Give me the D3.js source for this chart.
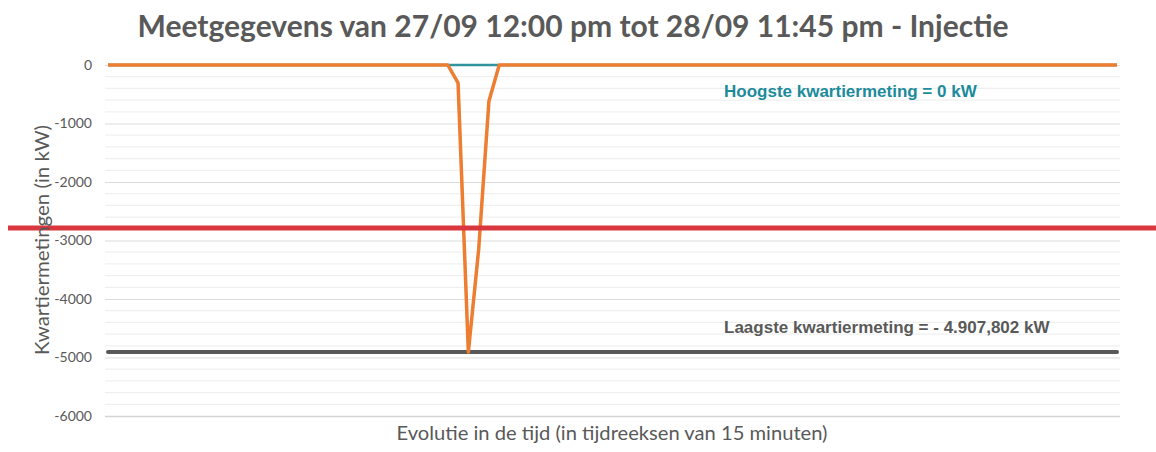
<!DOCTYPE html>
<html>
<head>
<meta charset="utf-8">
<script src="https://cdn.jsdelivr.net/npm/d3@7"></script>
<style>
  body { margin: 0; background: #fff; }
  svg { display: block; }
</style>
</head>
<body>
<div id="chart"></div>
<script>
'use strict';

// measurements per quarter hour (kW); only the short dip around index 35 is non-zero
const injectie = [
  0, 0, 0, 0, 0, 0, 0, 0, 0, 0, 0, 0, 0, 0, 0, 0, 0, 0, 0, 0,
  0, 0, 0, 0, 0, 0, 0, 0, 0, 0, 0, 0, 0, 0, -307, -4907.802, -3157, -614, 0, 0,
  0, 0, 0, 0, 0, 0, 0, 0, 0, 0, 0, 0, 0, 0, 0, 0, 0, 0, 0, 0,
  0, 0, 0, 0, 0, 0, 0, 0, 0, 0, 0, 0, 0, 0, 0, 0, 0, 0, 0, 0,
  0, 0, 0, 0, 0, 0, 0, 0, 0, 0, 0, 0, 0, 0, 0, 0, 0, 0, 0
];
const hoogste = 0;
const laagste = -4907.802;
const markering = -2785;
const yTicks = [0, -1000, -2000, -3000, -4000, -5000, -6000];

const title = 'Meetgegevens van 27/09 12:00 pm tot 28/09 11:45 pm - Injectie';
const yTitle = 'Kwartiermetingen (in kW)';
const xTitle = 'Evolutie in de tijd (in tijdreeksen van 15 minuten)';
const hoogsteLabel = 'Hoogste kwartiermeting = 0 kW';
const laagsteLabel = 'Laagste kwartiermeting = - 4.907,802 kW';

const W = 1156, H = 452;
const plot = { left: 105, right: 1120, top: 65, bottom: 416 };

const svg = d3.select('#chart').append('svg')
    .attr('width', W)
    .attr('height', H);

const idx = injectie.map((d, i) => i);

const x = d3.scalePoint()
    .domain(idx)
    .range([108, 1117]);

const y = d3.scaleLinear()
    .domain([0, -6000])
    .range([plot.top, plot.bottom]);

// minor gridlines every 200
svg.append('g')
  .selectAll('line')
  .data(d3.range(0, -6001, -200).filter(v => v % 1000 !== 0))
  .enter().append('line')
    .attr('x1', plot.left).attr('x2', plot.right)
    .attr('y1', d => y(d)).attr('y2', d => y(d))
    .attr('stroke', '#f0f0f0')
    .attr('stroke-width', 1.2);

// major gridlines + tick labels via axisLeft (plain hyphen, as in the original)
const yAxis = d3.axisLeft(y)
    .tickValues(yTicks)
    .tickSize(-(plot.right - plot.left))
    .tickPadding(13)
    .tickFormat(d => String(d));

const gy = svg.append('g')
    .attr('transform', `translate(${plot.left},0)`)
    .call(yAxis);

gy.select('.domain').remove();
gy.selectAll('.tick line')
    .attr('stroke', d => d === -6000 ? '#d4d4d4' : '#dcdcdc')
    .attr('stroke-width', d => d === -6000 ? 1.6 : 1.2);
gy.selectAll('.tick text')
    .attr('fill', '#595959')
    .style('font-family', 'Lato, "Open Sans", sans-serif')
    .style('font-size', '14px');

// highest (teal) and lowest (grey) reference lines
const ref = d3.line()
    .x(d => x(d[0]))
    .y(d => y(d[1]));

svg.append('path')
    .datum([[idx[0], hoogste], [idx[idx.length - 1], hoogste]])
    .attr('d', ref)
    .attr('fill', 'none')
    .attr('stroke', '#31939e')
    .attr('stroke-width', 2.5);

svg.append('path')
    .datum([[idx[0], laagste], [idx[idx.length - 1], laagste]])
    .attr('d', ref)
    .attr('fill', 'none')
    .attr('stroke', '#595959')
    .attr('stroke-width', 4)
    .attr('stroke-linecap', 'round');

// measurement series
const line = d3.line()
    .x((d, i) => x(i))
    .y(d => y(d));

svg.append('path')
    .datum(injectie)
    .attr('d', line)
    .attr('fill', 'none')
    .attr('stroke', '#ed7d31')
    .attr('stroke-width', 3.5)
    .attr('stroke-linejoin', 'round');

// red marker line across the figure
svg.append('line')
    .attr('x1', 8).attr('x2', W)
    .attr('y1', y(markering)).attr('y2', y(markering))
    .attr('stroke', '#d9363e')
    .attr('stroke-width', 5);

// annotations
svg.append('text')
    .attr('x', 724).attr('y', 97)
    .attr('fill', '#1b8b9b')
    .style('font-family', '"Liberation Sans", Arial, sans-serif')
    .style('font-weight', 'bold')
    .style('font-size', '17px')
    .text(hoogsteLabel);

svg.append('text')
    .attr('x', 724).attr('y', 333)
    .attr('fill', '#595959')
    .style('font-family', '"Liberation Sans", Arial, sans-serif')
    .style('font-weight', 'bold')
    .style('font-size', '17px')
    .text(laagsteLabel);

// titles
svg.append('text')
    .attr('x', 573).attr('y', 37)
    .attr('text-anchor', 'middle')
    .attr('fill', '#595959')
    .attr('textLength', 871)
    .attr('lengthAdjust', 'spacingAndGlyphs')
    .style('font-family', 'Lato, "Open Sans", sans-serif')
    .style('font-weight', 'bold')
    .style('font-size', '30px')
    .text(title);

svg.append('text')
    .attr('transform', 'translate(49,240) rotate(-90)')
    .attr('text-anchor', 'middle')
    .attr('fill', '#595959')
    .attr('textLength', 230)
    .attr('lengthAdjust', 'spacingAndGlyphs')
    .style('font-family', 'Lato, "Open Sans", sans-serif')
    .style('font-size', '20px')
    .text(yTitle);

svg.append('text')
    .attr('x', 612).attr('y', 440)
    .attr('text-anchor', 'middle')
    .attr('fill', '#595959')
    .attr('textLength', 431)
    .attr('lengthAdjust', 'spacingAndGlyphs')
    .style('font-family', 'Lato, "Open Sans", sans-serif')
    .style('font-size', '20px')
    .text(xTitle);
</script>
</body>
</html>
